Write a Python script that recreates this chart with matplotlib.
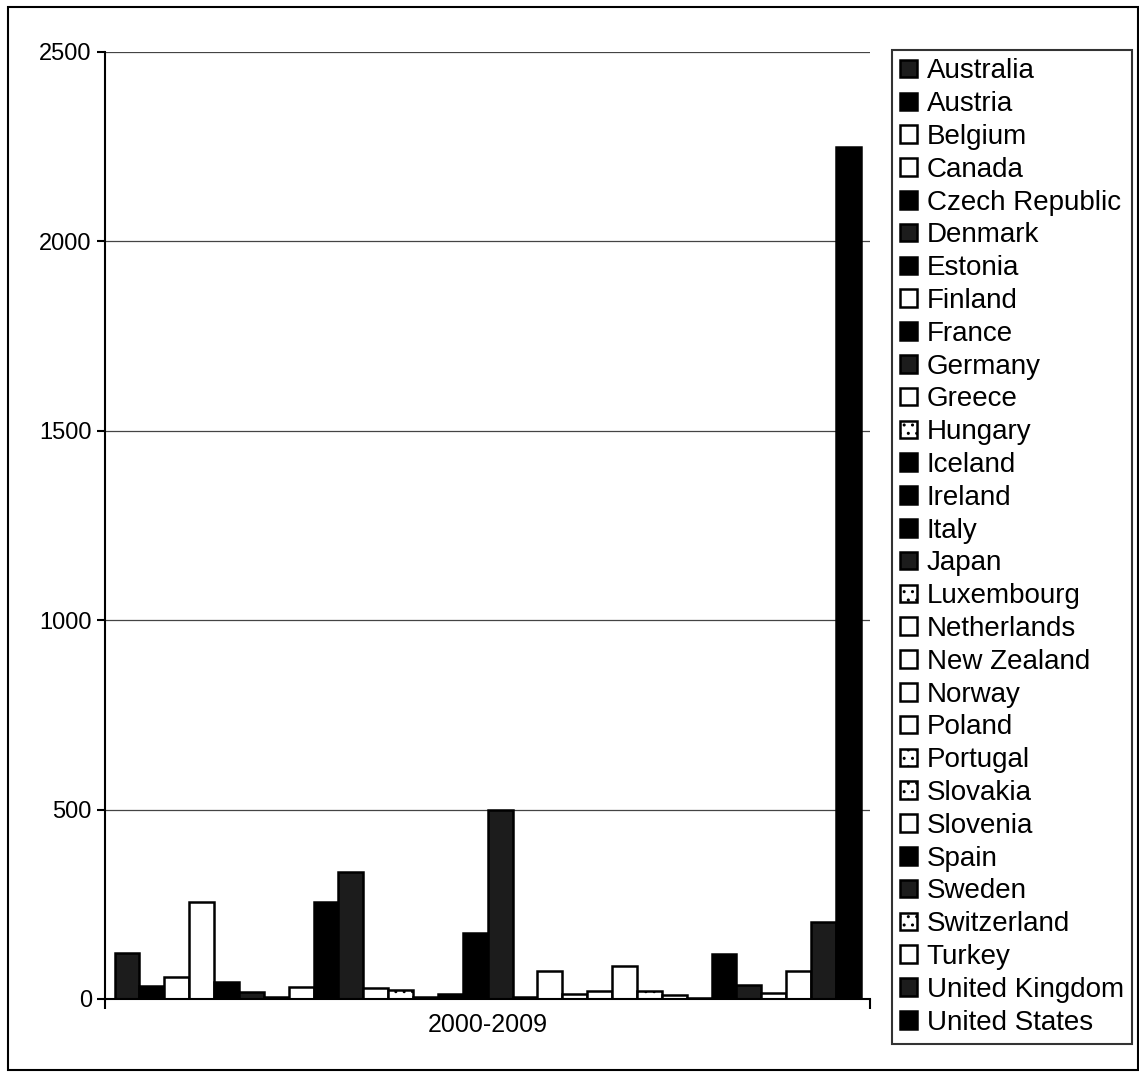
import matplotlib.pyplot as plt
from matplotlib.patches import Rectangle

plt.rcParams['font.family'] = ['Liberation Sans', 'DejaVu Sans']

period = '2000-2009'
countries = ['Australia', 'Austria', 'Belgium', 'Canada', 'Czech Republic', 'Denmark',
             'Estonia', 'Finland', 'France', 'Germany', 'Greece', 'Hungary', 'Iceland',
             'Ireland', 'Italy', 'Japan', 'Luxembourg', 'Netherlands', 'New Zealand',
             'Norway', 'Poland', 'Portugal', 'Slovakia', 'Slovenia', 'Spain', 'Sweden',
             'Switzerland', 'Turkey', 'United Kingdom', 'United States']
values = [122, 33, 58, 257, 46, 18, 5, 31, 256, 334, 29, 25, 4, 13, 174, 498,
          4, 73, 13, 22, 86, 22, 11, 3, 120, 38, 16, 75, 202, 2250]

# fill style per country: 'k' solid black, 'w' white, 'kp' dark pattern, 'wp' light pattern
styles = ['kp', 'k', 'w', 'w', 'k', 'kp', 'k', 'w', 'k', 'kp', 'w', 'wp', 'k', 'k', 'k',
          'kp', 'wp', 'w', 'w', 'w', 'w', 'wp', 'wp', 'w', 'k', 'kp', 'wp', 'w', 'kp', 'k']

fig = plt.figure(figsize=(11.39, 10.75), dpi=100)
ax = fig.add_axes([0.0922, 0.0707, 0.672, 0.881])

n = len(countries)
group_w = 0.975
bw = group_w / n
handles = []
for i, (c, v, s) in enumerate(zip(countries, values, styles)):
    x = -group_w / 2 + bw * (i + 0.5)
    if s == 'k':
        kw = dict(facecolor='black', edgecolor='black')
    elif s == 'kp':
        kw = dict(facecolor='#1c1c1c', edgecolor='black')
    elif s == 'wp':
        kw = dict(facecolor='white', edgecolor='black', hatch='..')
    else:
        kw = dict(facecolor='white', edgecolor='black')
    b = ax.bar(x, v, width=bw, linewidth=1.8, label=c, **kw)
    handles.append(b)

ax.set_xlim(-0.5, 0.5)
ax.set_ylim(0, 2500)
ax.set_yticks([0, 500, 1000, 1500, 2000, 2500])
ax.tick_params(axis='y', labelsize=17, length=6, width=1.5, direction='out')
ax.set_xticks([0])
ax.set_xticklabels([period])
ax.set_xticks([-0.5, 0.5], minor=True)
ax.tick_params(axis='x', which='major', length=0, labelsize=18, pad=10)
ax.tick_params(axis='x', which='minor', length=7, width=1.5, direction='out')
ax.yaxis.grid(True, color='#444444', linewidth=0.9)
ax.set_axisbelow(True)
for side in ['top', 'right']:
    ax.spines[side].set_visible(False)
for side in ['left', 'bottom']:
    ax.spines[side].set_linewidth(1.5)

leg = fig.legend(handles=handles, loc='upper left',
                 bbox_to_anchor=(892 / 1139, 1 - 50 / 1075),
                 fontsize=20, frameon=True, fancybox=False, edgecolor='black',
                 handlelength=0.6, handleheight=0.6, handletextpad=0.35,
                 labelspacing=0.245, borderpad=0.3, borderaxespad=0)
leg.get_frame().set_linewidth(1.5)

fig.patches.append(Rectangle((8 / 1139, 5 / 1075), 1 - 8 / 1139 - 0.001, 1 - 12 / 1075,
                             transform=fig.transFigure, fill=False,
                             edgecolor='black', linewidth=1.5))

fig.savefig('out.png', dpi=100)
